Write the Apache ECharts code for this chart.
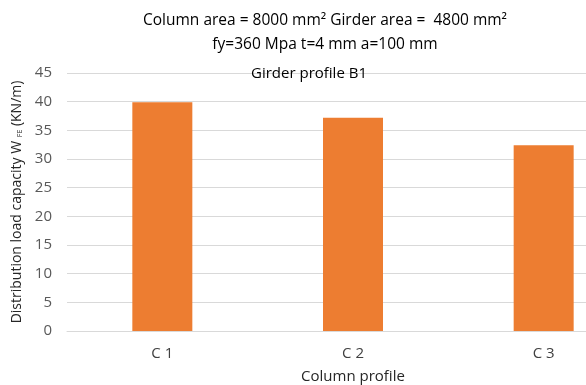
<!DOCTYPE html>
<html>
<head>
<meta charset="utf-8">
<script src="https://cdn.jsdelivr.net/npm/echarts@6/dist/echarts.min.js"></script>
<style>
  html, body { margin: 0; padding: 0; background: #fff; }
  #chart { width: 586px; height: 385px; }
</style>
</head>
<body>
<div id="chart"></div>
<script>
// Column profiles and their distributed load capacity (kN/m)
const categories = ['C 1', 'C 2', 'C 3'];
const capacity = [39.9, 37.2, 32.4];
const yTicks = { min: 0, max: 45, interval: 5 };

const titleLines = [
  'Column area = 8000 mm\u00b2 Girder area =  4800 mm\u00b2',
  'fy=360 Mpa t=4 mm a=100 mm'
];
const subTitle = 'Girder profile B1';

const FONT = 'Open Sans';
const TEXT = '#595959';

const chart = echarts.init(document.getElementById('chart'), null, { renderer: 'canvas' });
chart.setOption({
  animation: false,
  textStyle: { fontFamily: FONT },
  title: [
    { text: titleLines[0], left: 320, top: 8, textAlign: 'center',
      textStyle: { fontSize: 15.5, fontWeight: 'normal', color: '#000', fontFamily: FONT } },
    { text: titleLines[1], left: 320, top: 32, textAlign: 'center',
      textStyle: { fontSize: 15.5, fontWeight: 'normal', color: '#000', fontFamily: FONT } },
    { text: subTitle, left: 304, top: 61, textAlign: 'center',
      textStyle: { fontSize: 15, fontWeight: 'normal', color: '#000', fontFamily: FONT } }
  ],
  grid: { left: 67, top: 73, bottom: 54, right: -53, containLabel: false, outerBoundsMode: 'none' },
  xAxis: {
    type: 'category',
    data: categories,
    name: 'Column profile',
    nameLocation: 'middle',
    nameGap: 38,
    nameTextStyle: { fontSize: 15, color: '#262626', fontFamily: FONT },
    axisLine: { lineStyle: { color: '#d9d9d9', width: 1 } },
    axisTick: { show: false },
    axisLabel: { fontSize: 15, color: '#404040', margin: 15, fontFamily: FONT }
  },
  yAxis: {
    type: 'value',
    min: yTicks.min, max: yTicks.max, interval: yTicks.interval,
    name: '{a|Distribution load capacity W }{b|FE}{a| (KN/m)}',
    nameLocation: 'middle',
    nameRotate: 90,
    nameGap: 41,
    nameTextStyle: {
      rich: {
        a: { fontSize: 14, color: '#262626', fontFamily: FONT },
        b: { fontSize: 7, color: '#262626', fontFamily: FONT, verticalAlign: 'bottom', padding: [6, 0, 0, 0] }
      }
    },
    axisLine: { show: false },
    axisTick: { show: false },
    splitLine: { lineStyle: { color: '#d9d9d9', width: 1 } },
    axisLabel: { fontSize: 15, color: TEXT, margin: 15, fontFamily: FONT }
  },
  series: [{
    type: 'bar',
    data: capacity,
    barWidth: 60,
    itemStyle: { color: '#ED7D31' }
  }]
});
</script>
</body>
</html>
